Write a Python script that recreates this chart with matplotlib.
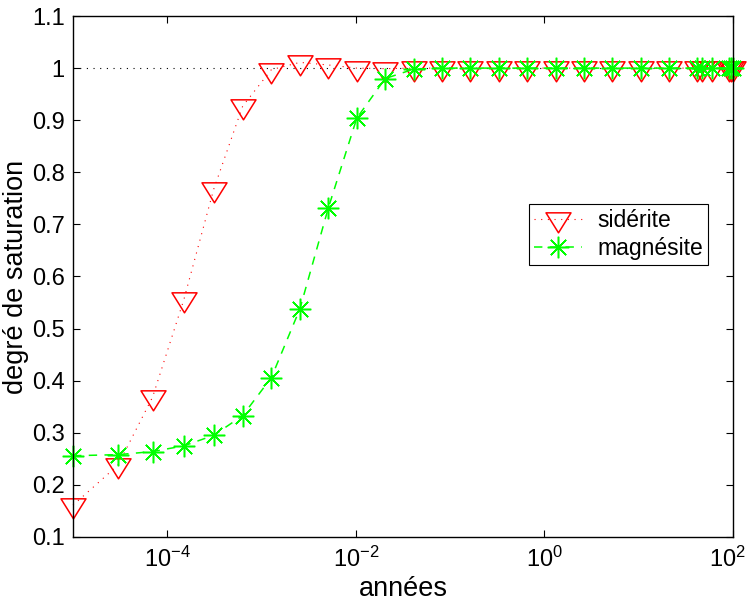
import matplotlib
matplotlib.use("Agg")
import matplotlib.pyplot as plt
from matplotlib.path import Path
from matplotlib.transforms import ScaledTranslation
from matplotlib.ticker import FixedLocator, FixedFormatter, NullLocator

# Données
annees = [1e-5, 3e-5, 7e-5, 1.5e-4, 3.1e-4, 6.3e-4, 1.27e-3, 2.55e-3, 5.11e-3,
          1.023e-2, 2.047e-2, 4.095e-2, 8.191e-2, 0.1638, 0.3277, 0.6554,
          1.311, 2.621, 5.243, 10.49, 20.97, 41.94, 47.0, 60.0, 90.0, 95.0, 100.0]
siderite = [0.161, 0.238, 0.369, 0.556, 0.767, 0.927, 0.997, 1.011, 1.006,
            1.000, 0.999, 1.0, 1.0, 1.0, 1.0, 1.0, 1.0, 1.0, 1.0, 1.0, 1.0,
            1.0, 1.0, 1.0, 1.0, 1.0, 1.0]
magnesite = [0.256, 0.258, 0.264, 0.275, 0.295, 0.333, 0.406, 0.538, 0.732,
             0.904, 0.980, 0.998, 1.0, 1.0, 1.0, 1.0, 1.0, 1.0, 1.0, 1.0, 1.0,
             1.0, 1.0, 1.0, 1.0, 1.0, 1.0]
ligne_ref = [1.0, 1.0]
xticks = [1e-4, 1e-2, 1e0, 1e2]
xtick_labels = [r"$10^{-4}$", r"$10^{-2}$", r"$10^{0}$", r"$10^{2}$"]
yticks = [0.1, 0.2, 0.3, 0.4, 0.5, 0.6, 0.7, 0.8, 0.9, 1.0, 1.1]
ytick_labels = ["0.1", "0.2", "0.3", "0.4", "0.5", "0.6", "0.7", "0.8", "0.9", "1", "1.1"]

plt.rcParams["font.family"] = ["Liberation Sans", "DejaVu Sans"]
plt.rcParams["mathtext.fontset"] = "custom"
plt.rcParams["mathtext.rm"] = "Liberation Sans"
plt.rcParams["mathtext.it"] = "Liberation Sans:italic"
plt.rcParams["mathtext.bf"] = "Liberation Sans:bold"

# triangle pointe en bas, ancré sur son centre de gravité (comme MATLAB)
triangle = Path([(-1.875, 1.0), (1.875, 1.0), (0.0, -2.0), (-1.875, 1.0)], closed=True)

fig = plt.figure(figsize=(7.48, 6.02), dpi=100)
ax = fig.add_axes([0.0976, 0.108, 0.8824, 0.8654])

ax.plot([1e-5, 1e2], ligne_ref, color="black", lw=0.8, linestyle=(0, (1, 5)), zorder=1)
ax.plot(annees, siderite, color="red", lw=0.8, linestyle=(0, (1, 5)),
        marker=triangle, markersize=19.2, markerfacecolor="none",
        markeredgecolor="red", markeredgewidth=1.1, label="sidérite",
        zorder=2, clip_on=False)
ax.plot(annees, magnesite, color=(0, 1, 0), lw=1.1, linestyle=(0, (5.5, 4.8)),
        marker=(8, 2, 0), markersize=15.5, markeredgecolor=(0, 1, 0),
        markeredgewidth=1.1, label="magnésite", zorder=3, clip_on=False)

ax.set_xscale("log")
ax.set_xlim(1e-5, 1e2)
ax.set_ylim(0.1, 1.1)
ax.xaxis.set_major_locator(FixedLocator(xticks))
ax.xaxis.set_major_formatter(FixedFormatter(xtick_labels))
ax.xaxis.set_minor_locator(NullLocator())
ax.set_yticks(yticks)
ax.set_yticklabels(ytick_labels)

ax.tick_params(direction="in", length=5, width=0.8, top=True, right=True,
               labelsize=17)
ax.tick_params(axis="x", pad=7)
ax.tick_params(axis="y", pad=6)
for sp in ax.spines.values():
    sp.set_linewidth(1.0)
    sp.set_zorder(5)

# le dernier label (10^2) touche le bord droit : on le décale un peu
dernier = ax.get_xticklabels()[-1]
dernier.set_transform(dernier.get_transform() + ScaledTranslation(-4 / 72, 0, fig.dpi_scale_trans))

ax.set_xlabel("années", fontsize=19.5, labelpad=3)
ax.set_ylabel("degré de saturation", fontsize=19.5, labelpad=2)

leg = ax.legend(loc="upper left", bbox_to_anchor=(0.691, 0.639), borderaxespad=0,
                fontsize=16.5, numpoints=1, handlelength=2.1, handletextpad=0.65,
                borderpad=0.22, labelspacing=0.22, fancybox=False, framealpha=1,
                edgecolor="black")
leg.get_frame().set_linewidth(0.8)

fig.savefig("out.png", dpi=100)
